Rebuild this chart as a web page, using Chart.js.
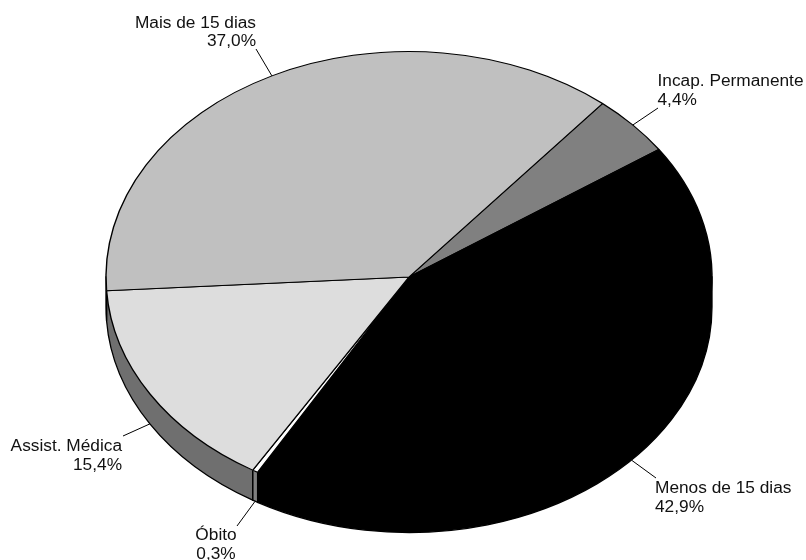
<!DOCTYPE html>
<html>
<head>
<meta charset="utf-8">
<style>
html,body{margin:0;padding:0;background:#fff;overflow:hidden}
#wrap{width:806px;height:560px;position:relative}
</style>
<script src="https://cdn.jsdelivr.net/npm/chart.js@4/dist/chart.umd.min.js"></script>
</head>
<body>
<div id="wrap"><canvas id="c" width="806" height="560"></canvas></div>
<script>
const categories = ["Incap. Permanente", "Menos de 15 dias", "Óbito", "Assist. Médica", "Mais de 15 dias"];
const values = [4.4, 42.9, 0.3, 15.4, 37.0];
const valueLabels = ["4,4%", "42,9%", "0,3%", "15,4%", "37,0%"];
const topColors = ["#808080", "#000000", "#ffffff", "#dddddd", "#c0c0c0"];
const sideColors = ["#606060", "#000000", "#808080", "#6f6f6f", "#6f6f6f"];

const TILT = 225.5 / 303;
const DEPTH = 30;
const FONT_PX = 17.3;
const LINE_H = 18.5;
/* label anchor: text x, first baseline, alignment, leader outer end */
const labelLayout = [
  {x: 657.5, y: 86,  align: "left",   lx: 658, ly: 108},
  {x: 655,   y: 493, align: "left",   lx: 656, ly: 478},
  {x: 216,   y: 540, align: "center", lx: 237, ly: 526},
  {x: 122,   y: 451, align: "right",  lx: 123, ly: 436},
  {x: 256,   y: 27.5,align: "right",  lx: 256, ly: 49}
];

const pie3d = {
  id: "pie3d",
  beforeDatasetsDraw(chart) {
    const ctx = chart.ctx;
    const arcs = chart.getDatasetMeta(0).data;
    const {x: cx, y: cy, outerRadius: r} = arcs[0];
    const ry = r * TILT;
    const two = Math.PI * 2;
    ctx.save();
    arcs.forEach((arc, i) => {
      for (let k = -1; k <= 1; k++) {
        const from = Math.max(arc.startAngle, k * two);
        const to = Math.min(arc.endAngle, k * two + Math.PI);
        if (to <= from) continue;
        ctx.beginPath();
        ctx.moveTo(cx, cy);
        ctx.lineTo(cx + r * Math.cos(to), cy + ry * Math.sin(to));
        ctx.lineTo(cx + r * Math.cos(to), cy + ry * Math.sin(to) + DEPTH);
        ctx.ellipse(cx, cy + DEPTH, r, ry, 0, to, from, true);
        ctx.lineTo(cx + r * Math.cos(from), cy + ry * Math.sin(from));
        ctx.closePath();
        ctx.fillStyle = sideColors[i];
        ctx.strokeStyle = "#000";
        ctx.lineWidth = 1.3;
        ctx.fill();
        ctx.stroke();
      }
    });
    ctx.restore();
    ctx.save();
    ctx.translate(cx, cy);
    ctx.scale(1, TILT);
    ctx.translate(-cx, -cy);
  },
  afterDatasetsDraw(chart) {
    const ctx = chart.ctx;
    ctx.restore();
    const arcs = chart.getDatasetMeta(0).data;
    ctx.save();
    ctx.font = FONT_PX + 'px "Liberation Sans", Arial, sans-serif';
    ctx.textBaseline = "alphabetic";
    arcs.forEach((arc, i) => {
      const mid = (arc.startAngle + arc.endAngle) / 2;
      const px = arc.x + arc.outerRadius * Math.cos(mid);
      let py = arc.y + arc.outerRadius * TILT * Math.sin(mid);
      if (Math.sin(mid) > 0) py += DEPTH;
      const L = labelLayout[i];
      ctx.strokeStyle = "#000";
      ctx.lineWidth = 1;
      ctx.beginPath();
      ctx.moveTo(L.lx, L.ly);
      ctx.lineTo(px, py);
      ctx.stroke();
      ctx.fillStyle = "#111";
      ctx.textAlign = L.align;
      ctx.fillText(categories[i], L.x, L.y);
      ctx.fillText(valueLabels[i], L.x, L.y + LINE_H);
    });
    ctx.restore();
  }
};

new Chart(document.getElementById("c"), {
  type: "pie",
  data: {
    labels: categories,
    datasets: [{
      data: values,
      backgroundColor: topColors,
      borderColor: "#000000",
      borderWidth: 1.4,
      clip: false
    }]
  },
  options: {
    responsive: false,
    animation: false,
    rotation: 39.7,
    radius: 303,
    layout: {padding: {left: 12, bottom: 6}},
    plugins: {legend: {display: false}, tooltip: {enabled: false}, title: {display: false}}
  },
  plugins: [pie3d]
});
</script>
</body>
</html>
